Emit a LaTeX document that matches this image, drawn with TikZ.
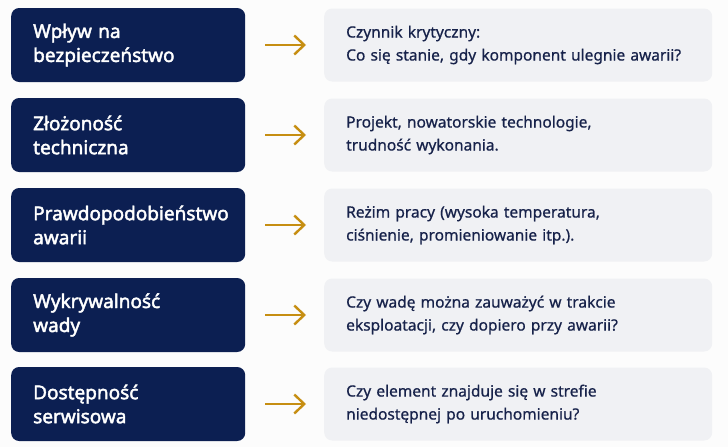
\documentclass[tikz,border=0pt]{standalone}
\usepackage{fontspec}
\setmainfont{Noto Sans}
\newfontfamily\factorfont[FakeBold=2.2]{Noto Sans}
\newfontfamily\descfont[FakeBold=0.7]{Noto Sans}
\usetikzlibrary{arrows.meta}
\definecolor{navy}{HTML}{0C1F52}
\definecolor{paleGray}{HTML}{F0F1F4}
\definecolor{inkBlue}{HTML}{17224A}
\definecolor{gold}{HTML}{C68E12}
\begin{document}
\begin{tikzpicture}
[x=1pt, y=1pt,
 FactorNode/.style={rectangle, rounded corners=8pt,
    fill=navy, text=white, anchor=west,
    minimum height=74pt, text width=190pt, inner xsep=22pt,
    align=left, font=\factorfont\fontsize{19}{24}\selectfont},
 DescNode/.style={rectangle, rounded corners=8pt,
    fill=paleGray, text=inkBlue, anchor=west,
    minimum height=73pt, text width=344pt, inner xsep=22pt,
    align=left, font=\descfont\fontsize{15.5}{23}\selectfont},
 LinkArrow/.style={draw=gold, line width=2.4pt,
    -{Straight Barb[length=10pt,width=19pt]},
    shorten <=20pt, shorten >=18pt}]
\fill[white!98!gray] (0,0) rectangle (728,-447);
\foreach \i/\y/\factor/\desc in {
    1/45/{Wpływ na\\bezpieczeństwo}/{Czynnik krytyczny:\\Co się stanie, gdy komponent ulegnie awarii?},
    2/135/{Złożoność\\techniczna}/{Projekt, nowatorskie technologie,\\trudność wykonania.},
    3/225/{Prawdopodobieństwo\\awarii}/{Reżim pracy (wysoka temperatura,\\ciśnienie, promieniowanie itp.).},
    4/315/{Wykrywalność\\wady}/{Czy wadę można zauważyć w trakcie\\eksploatacji, czy dopiero przy awarii?},
    5/404/{Dostępność\\serwisowa}/{Czy element znajduje się w strefie\\niedostępnej po uruchomieniu?}}
{
    \node[FactorNode] (f\i) at (11,-\y) {\factor};
    \node[DescNode] (d\i) at (324,-\y) {\desc};
    \draw[LinkArrow] (f\i.east) -- (d\i.west);
}
\end{tikzpicture}
\end{document}
